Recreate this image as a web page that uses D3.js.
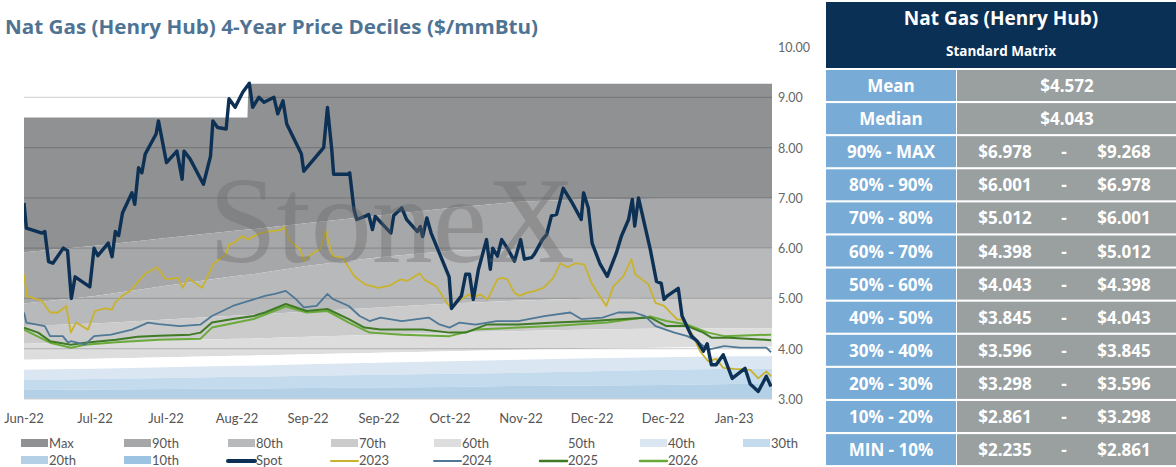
<!DOCTYPE html>
<html><head><meta charset="utf-8">
<script src="https://cdn.jsdelivr.net/npm/d3@7"></script>
<style>body{margin:0;background:#fff}svg{display:block;font-family:Lato,"Open Sans",sans-serif}</style>
</head><body><svg id="c" width="1176" height="467"></svg>
<script>
const xTickDays=[0,15,30,45,60,75,90,105,120,135,150];
const xTickLabels=["Jun-22","Jul-22","Jul-22","Aug-22","Sep-22","Sep-22","Oct-22","Nov-22","Dec-22","Dec-22","Jan-23"];
const yTicks=[3,4,5,6,7,8,9,10];

const decileDays=[0,15,30,45,47.2,47.4,60,75,90,105,120,135,150,158];
const pMax=[8.6,8.6,8.6,8.6,8.6,9.27,9.27,9.27,9.27,9.27,9.27,9.27,9.27,9.27];
const p90=[5.92,6.05,6.2,6.35,6.37,6.37,6.5,6.65,6.8,6.93,6.97,6.98,6.98,6.98];
const p80=[4.9,5.05,5.25,5.45,5.47,5.47,5.65,5.82,5.95,5.99,6.0,6.0,6.0,6.0];
const p70=[4.45,4.5,4.58,4.66,4.67,4.67,4.74,4.82,4.9,4.96,5.0,5.01,5.01,5.01];
const p60=[4.1,4.13,4.17,4.2,4.2,4.2,4.24,4.28,4.32,4.35,4.38,4.4,4.4,4.4];
const p50=[3.78,3.8,3.83,3.86,3.86,3.86,3.89,3.92,3.95,3.98,4.0,4.02,4.04,4.04];
const p40=[3.58,3.6,3.63,3.66,3.66,3.66,3.69,3.72,3.75,3.78,3.81,3.83,3.85,3.85];
const p30=[3.38,3.4,3.42,3.44,3.44,3.44,3.46,3.48,3.5,3.52,3.55,3.58,3.6,3.6];
const p20=[3.18,3.19,3.2,3.21,3.21,3.21,3.22,3.23,3.24,3.26,3.27,3.28,3.3,3.3];
const p10=[2.8,2.8,2.81,2.82,2.82,2.82,2.83,2.83,2.84,2.84,2.85,2.86,2.86,2.86];
const pMin=[2.2,2.2,2.21,2.21,2.21,2.21,2.22,2.22,2.22,2.23,2.23,2.235,2.235,2.235];

const spot=[[0,6.9],[0.5,6.4],[3.8,6.3],[4.4,6.33],[5.2,5.73],[6.1,5.7],[8.3,6.0],[9.2,5.95],[10,5.0],[10.8,5.43],[13.9,5.23],[14.8,6.0],[15.6,5.85],[17.8,6.1],[18.6,5.83],[19.3,6.33],[20,6.25],[20.8,6.7],[22.8,7.1],[23.4,6.87],[24.2,7.6],[24.9,7.5],[25.6,7.87],[27.9,8.27],[28.4,8.53],[30.1,7.7],[32.3,7.93],[33.4,7.37],[33.8,7.93],[35.1,7.77],[37.9,7.27],[39.4,7.83],[39.9,8.53],[40.9,8.4],[42.7,8.37],[43.3,8.97],[44.6,8.8],[46.2,9.1],[47.6,9.28],[48.3,8.8],[49.6,9.0],[50.7,8.9],[52.8,9.0],[53.6,8.67],[54.7,8.93],[55.5,8.47],[58.6,7.87],[59.1,7.53],[63.3,8.0],[64.1,8.8],[65,7.97],[65.4,7.47],[68.4,7.47],[68.8,7.5],[69.7,6.77],[70.3,6.57],[72,6.63],[72.8,6.67],[73.6,6.37],[74.2,6.63],[77.5,6.3],[78.1,6.65],[79.8,6.8],[80.8,6.57],[83.1,6.33],[83.7,6.43],[84.2,6.23],[85.1,6.6],[86,6.3],[89.8,5.43],[90.3,4.8],[92.4,5.05],[93.3,5.48],[94.1,5.48],[94.9,4.98],[96,5.58],[97.7,6.17],[98.5,5.58],[99,6.0],[100,5.84],[100.9,6.17],[102.1,6.0],[103.6,5.74],[104.9,6.17],[105.7,5.78],[107.2,5.81],[107.8,5.88],[109.5,6.17],[110.4,6.27],[111.4,6.64],[112.5,6.67],[113.9,7.19],[115.8,6.9],[117.7,6.57],[118.2,7.1],[119.2,6.8],[120,6.1],[121.7,5.68],[123.2,5.44],[125.1,5.9],[126.2,6.24],[127.7,6.57],[128.5,6.97],[129,6.44],[129.8,7.0],[132.3,5.97],[133.6,5.34],[134.6,5.3],[135.2,4.98],[135.9,5.05],[138.2,5.2],[139,4.65],[141,4.25],[142.2,4.15],[143.5,3.95],[144.3,4.1],[145.2,3.68],[146.2,3.68],[147.7,3.88],[149.6,3.41],[152.3,3.61],[153.4,3.3],[155.1,3.15],[156.8,3.45],[157.8,3.25]];
const y2023=[[0,5.48],[0.6,5.05],[3.8,4.95],[5.5,4.72],[7.2,4.72],[8.9,4.85],[9.9,4.32],[11,4.52],[13.5,4.38],[15,4.75],[17.1,4.8],[18.6,4.78],[19.2,4.91],[20.7,5.05],[22.8,5.18],[23.8,5.3],[25.7,5.5],[28.1,5.62],[30,5.38],[32.5,5.41],[33.5,5.21],[34.6,5.41],[37.6,5.21],[40.1,5.7],[42.6,5.87],[43.3,6.07],[44.3,6.1],[46.2,6.24],[47.3,6.17],[49.8,6.3],[54.4,6.37],[55.1,6.42],[55.9,6.17],[58.4,5.97],[59.1,5.74],[60.6,5.87],[62.7,6.0],[63.7,6.34],[65.2,5.84],[67.3,5.81],[69.8,5.44],[72,5.28],[74.9,5.21],[77.4,5.26],[79.5,5.38],[81,5.35],[83.6,5.5],[84.6,5.37],[87.1,5.24],[89.3,4.91],[90.3,4.8],[91.8,4.95],[93.9,5.08],[94.9,5.02],[96.4,5.08],[97.9,4.98],[100,5.38],[101,5.41],[102.1,5.38],[103.6,5.11],[104.7,5.05],[106.1,5.11],[107.6,5.14],[109.7,5.21],[111.8,5.41],[113.3,5.7],[114.8,5.62],[116.5,5.7],[118.4,5.67],[120,5.28],[123,4.85],[124.5,5.24],[126.6,5.44],[128.3,5.78],[129.1,5.48],[131.9,5.28],[133.4,4.91],[135.2,4.85],[138,4.58],[139,4.58],[141.2,4.28],[142.8,3.95],[144.5,3.75],[146.2,3.8],[147.7,3.62],[150,3.6],[153.4,3.58],[155.1,3.41],[156.8,3.55],[157.8,3.45]];
const y2024=[[0,4.72],[0.5,4.52],[4.4,4.45],[5.5,4.25],[8.2,4.25],[9.3,4.12],[9.9,4.15],[12.9,4.08],[14.8,4.25],[18.4,4.28],[22.8,4.38],[26.2,4.52],[28.5,4.49],[32.9,4.45],[37.3,4.48],[39.7,4.65],[44.1,4.85],[47.5,4.95],[50.9,5.05],[53,5.09],[55.3,5.15],[57.4,4.99],[59.1,4.82],[61.8,4.85],[64.1,5.09],[65.2,4.99],[68.6,4.85],[70.9,4.65],[73,4.55],[75.3,4.62],[79.8,4.55],[85.5,4.62],[87.6,4.49],[89.9,4.42],[92,4.52],[95.4,4.48],[99.8,4.55],[104.4,4.55],[109.9,4.65],[115.4,4.72],[117.7,4.59],[122.2,4.62],[125.5,4.72],[128.9,4.72],[131.2,4.65],[133.4,4.45],[137.4,4.32],[140.1,4.25],[142.2,4.15],[144.5,3.98],[147.9,4.05],[151.3,4.02],[156.8,4.02],[157.8,3.93]];
const y2025=[[0,4.42],[3,4.32],[5.5,4.15],[9.9,4.08],[12.9,4.12],[19.4,4.18],[24,4.24],[28.5,4.26],[35.1,4.28],[37.3,4.32],[39.7,4.52],[44.1,4.59],[48.5,4.65],[50.9,4.72],[55.3,4.89],[59.7,4.75],[64.1,4.79],[68.6,4.59],[71.9,4.42],[75.3,4.38],[84.2,4.38],[89.9,4.32],[93.3,4.32],[97.7,4.48],[104.4,4.48],[112.2,4.52],[120,4.55],[126.6,4.59],[132.3,4.62],[135.7,4.45],[140.1,4.45],[143.5,4.32],[145.2,4.22],[149,4.22],[157.8,4.17]];
const y2026=[[0,4.38],[5.5,4.12],[9.9,4.02],[12.9,4.08],[19.4,4.13],[28.5,4.18],[37.3,4.2],[39.7,4.42],[48.5,4.59],[55.3,4.84],[59.7,4.72],[64.1,4.75],[68.6,4.52],[73,4.32],[79.8,4.28],[89.9,4.25],[95.4,4.38],[104.4,4.42],[111.8,4.45],[123.2,4.52],[132.3,4.64],[135.7,4.55],[140.1,4.48],[144.5,4.32],[147.9,4.25],[157.8,4.28]];

const tableRows=[["90% - MAX","$6.978","$9.268"],["80% - 90%","$6.001","$6.978"],["70% - 80%","$5.012","$6.001"],["60% - 70%","$4.398","$5.012"],["50% - 60%","$4.043","$4.398"],["40% - 50%","$3.845","$4.043"],["30% - 40%","$3.596","$3.845"],["20% - 30%","$3.298","$3.596"],["10% - 20%","$2.861","$3.298"],["MIN - 10%","$2.235","$2.861"]];
const stats=[["Mean","$4.572"],["Median","$4.043"]];

const svg=d3.select("#c");
const x=d3.scaleLinear().domain([0,158]).range([24,772]);
const y=d3.scaleLinear().domain([3,10]).range([399,47]);

svg.append("defs").append("clipPath").attr("id","cp").append("rect").attr("x",24).attr("y",40).attr("width",748).attr("height",359);
const g=svg.append("g").attr("clip-path","url(#cp)");

const bands=[
 {name:"Max",hi:pMax,lo:p90,c:"#909193"},
 {name:"90th",hi:p90,lo:p80,c:"#a6a7a9"},
 {name:"80th",hi:p80,lo:p70,c:"#b8b9bb"},
 {name:"70th",hi:p70,lo:p60,c:"#cbcbcb"},
 {name:"60th",hi:p60,lo:p50,c:"#dddddd"},
 {name:"50th",hi:p50,lo:p40,c:"#ffffff"},
 {name:"40th",hi:p40,lo:p30,c:"#dae6f2"},
 {name:"30th",hi:p30,lo:p20,c:"#c4dbed"},
 {name:"20th",hi:p20,lo:p10,c:"#b3d0e7"},
 {name:"10th",hi:p10,lo:pMin,c:"#9dc3e3"}];
bands.forEach(b=>{
  const area=d3.area().x((d,i)=>x(decileDays[i])).y0((d,i)=>y(b.lo[i])).y1(d=>y(d));
  g.append("path").attr("d",area(b.hi)).attr("fill",b.c);
});
yTicks.forEach(t=>{
  if(t===3||t===10) return;
  g.append("line").attr("x1",24).attr("x2",772).attr("y1",y(t)).attr("y2",y(t)).attr("stroke","#000").attr("stroke-opacity",0.16).attr("stroke-width",1.2);
});
svg.append("line").attr("x1",24).attr("x2",772).attr("y1",y(3)).attr("y2",y(3)).attr("stroke","#d0d0d0");

svg.append("text").attr("x",392).attr("y",262).attr("text-anchor","middle").attr("font-family","Liberation Serif,serif")
 .attr("font-size",122).attr("fill","#6a6a6a").attr("fill-opacity",0.38).text("StoneX");

const line=d3.line().x(d=>x(d[0])).y(d=>y(d[1]));
const series=[{n:"2026",d:y2026,c:"#6aaa3a",w:2},{n:"2025",d:y2025,c:"#3f7a25",w:2},{n:"2024",d:y2024,c:"#4f7896",w:1.8},{n:"2023",d:y2023,c:"#c9b22e",w:1.8},{n:"Spot",d:spot,c:"#0d3055",w:3.4}];
series.forEach(s=>g.append("path").attr("d",line(s.d)).attr("fill","none").attr("stroke",s.c).attr("stroke-width",s.w).attr("stroke-linejoin","round"));

svg.append("text").attr("x",5).attr("y",34).attr("font-family","'Open Sans',sans-serif").attr("font-size",20).attr("font-weight",700).attr("fill","#4e7393")
 .attr("textLength",533).attr("lengthAdjust","spacingAndGlyphs").text("Nat Gas (Henry Hub) 4-Year Price Deciles ($/mmBtu)");

yTicks.forEach(t=>svg.append("text").attr("x",778).attr("y",y(t)+5).attr("font-size",12.5).attr("fill","#666").text(t.toFixed(2)));
xTickDays.forEach((d,i)=>svg.append("text").attr("x",x(d)).attr("y",423).attr("text-anchor","middle").attr("font-size",13).attr("fill","#555").text(xTickLabels[i]));

const legend=[...bands.map(b=>({n:b.name,c:b.c,t:"r"})),...[{n:"Spot",c:"#0d3055",w:4},{n:"2023",c:"#c9b22e",w:2},{n:"2024",c:"#4f7896",w:2},{n:"2025",c:"#3f7a25",w:2.5},{n:"2026",c:"#6aaa3a",w:2.5}].map(s=>({...s,t:"l"}))];
const lx=[21,124,228,331,434,540,640,743];
legend.forEach((L,i)=>{
  const r=i<8?0:1, cx=lx[r?i-8:i], cy=r?460:443;
  if(L.t==="r") svg.append("rect").attr("x",cx).attr("y",cy-4).attr("width",27).attr("height",8).attr("fill",L.c);
  else svg.append("line").attr("x1",cx).attr("x2",cx+27).attr("y1",cy+1).attr("y2",cy+1).attr("stroke",L.c).attr("stroke-width",L.w).attr("stroke-linecap","round");
  svg.append("text").attr("x",cx+28).attr("y",cy+5).attr("font-size",13).attr("fill","#555").text(L.n);
});

// table
const T=svg.append("g").attr("font-family","'Open Sans',sans-serif");
T.append("rect").attr("x",826).attr("y",2).attr("width",350).attr("height",66).attr("fill","#0b3056");
T.append("text").attr("x",1001).attr("y",25).attr("text-anchor","middle").attr("font-size",19).attr("font-weight",700).attr("fill","#fff").text("Nat Gas (Henry Hub)");
T.append("text").attr("x",1001).attr("y",56).attr("text-anchor","middle").attr("font-size",13.5).attr("font-weight",700).attr("fill","#fff").text("Standard Matrix");
const rowTop=i=>69+i*33.1;
stats.concat(tableRows).forEach((r,i)=>{
  const t=rowTop(i);
  T.append("rect").attr("x",826).attr("y",t+1).attr("width",130).attr("height",31).attr("fill","#78abd5");
  T.append("rect").attr("x",957).attr("y",t+1).attr("width",219).attr("height",31).attr("fill","#9aa09f");
  const ty=t+23;
  const tx=(xx,s)=>T.append("text").attr("x",xx).attr("y",ty).attr("text-anchor","middle").attr("font-size",17).attr("font-weight",700).attr("fill","#fff").text(s);
  tx(891,r[0]);
  if(r.length===2) tx(1067,r[1]);
  else{ tx(1005,r[1]); tx(1064,"-"); tx(1124,r[2]); }
});
</script></body></html>
